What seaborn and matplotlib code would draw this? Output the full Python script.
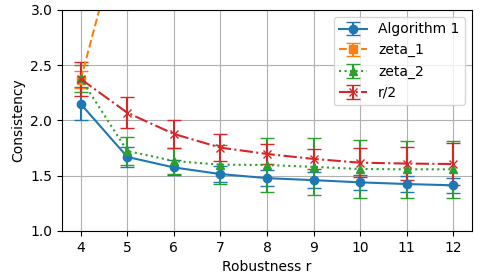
import numpy as np
import matplotlib
matplotlib.use('Agg')
import matplotlib.pyplot as plt
import seaborn as sns

# robustness values on the x axis
r_values = [4, 5, 6, 7, 8, 9, 10, 11, 12]

# mean consistency per method
alg1_mean = [2.15, 1.67, 1.575, 1.515, 1.478, 1.46, 1.44, 1.425, 1.413]
alg1_err = [0.15, 0.09, 0.07, 0.07, 0.07, 0.074, 0.07, 0.072, 0.07]

zeta1_mean = [2.37, 3.95, 5.4, 6.9, 8.4, 9.9, 11.4, 12.9, 14.4]
zeta1_err = [0.08, 0.2, 0.3, 0.4, 0.5, 0.6, 0.7, 0.8, 0.9]

zeta2_mean = [2.38, 1.724, 1.633, 1.60, 1.597, 1.58, 1.561, 1.558, 1.558]
zeta2_err = [0.12, 0.125, 0.12, 0.175, 0.245, 0.257, 0.265, 0.255, 0.255]

half_r_mean = [2.375, 2.07, 1.878, 1.754, 1.697, 1.652, 1.618, 1.61, 1.606]
half_r_err = [0.15, 0.14, 0.13, 0.125, 0.09, 0.09, 0.13, 0.15, 0.19]

colors = sns.color_palette('tab10')

fig, ax = plt.subplots(figsize=(4.85, 2.75), dpi=100)

series = [
    ('Algorithm 1', alg1_mean, alg1_err, '-', 'o'),
    ('zeta_1', zeta1_mean, zeta1_err, '--', 's'),
    ('zeta_2', zeta2_mean, zeta2_err, ':', '^'),
    ('r/2', half_r_mean, half_r_err, '-.', 'x'),
]
for i, (name, mean, err, ls, mk) in enumerate(series):
    ax.errorbar(r_values, mean, yerr=err, label=name, color=colors[i],
                linestyle=ls, marker=mk, capsize=5)

ax.set_ylim(1.0, 3.0)
ax.set_xlim(3.6, 12.4)
ax.set_xticks(r_values)
ax.set_xlabel('Robustness r')
ax.set_ylabel('Consistency')
ax.grid(True, color='#b0b0b0')
ax.legend(loc='upper right')

fig.subplots_adjust(left=0.128, right=0.973, top=0.964, bottom=0.16)
fig.savefig('out.png', dpi=100)
